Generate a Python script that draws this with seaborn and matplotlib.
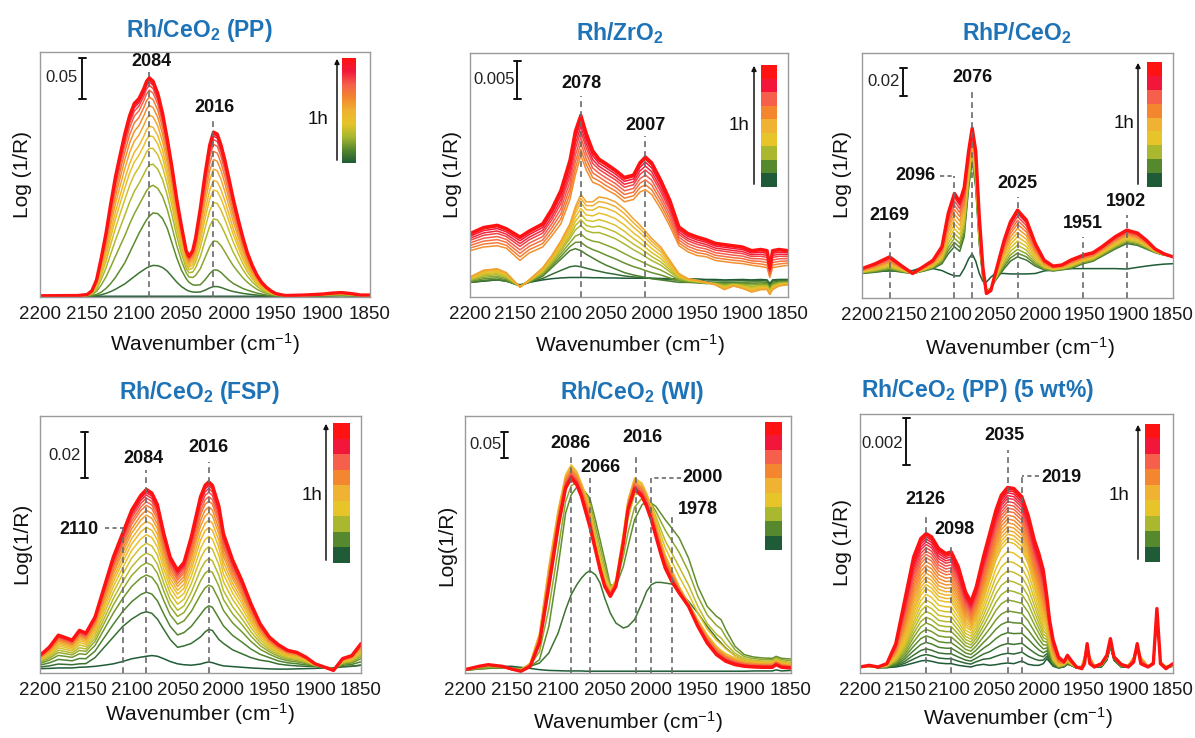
import numpy as np
import pandas as pd
import matplotlib
matplotlib.use("Agg")
import matplotlib.pyplot as plt
import matplotlib.transforms as mtransforms
from matplotlib.patches import FancyArrowPatch
from matplotlib.colors import LinearSegmentedColormap, ListedColormap
import seaborn as sns

# ---------------------------------------------------------------------------
# Spectra (log(1/R), absorbance units).  Each panel keeps a few measured
# reference spectra; the intermediate scans are placed between them at the
# fractional positions listed in *_steps (first scan -> last scan, 1 h).
# ---------------------------------------------------------------------------

# Rh/CeO2 (PP)
wn_pp = [2200, 2160, 2150, 2145, 2140, 2135, 2130, 2125, 2120, 2115,
         2110, 2105, 2100, 2095, 2090, 2087, 2084, 2080, 2075, 2070,
         2065, 2060, 2055, 2050, 2045, 2042, 2038, 2035, 2030, 2025,
         2020, 2016, 2012, 2008, 2004, 2000, 1995, 1990, 1985, 1980,
         1975, 1970, 1965, 1960, 1955, 1950, 1940, 1920, 1900, 1890,
         1880, 1870, 1860, 1850]
pp_base = [0.0009] * 47 + [0.0012, 0.0012, 0.0015, 0.0018, 0.0015, 0.0012, 0.0012]
pp_early = [0.0009, 0.0009, 0.0012, 0.0018, 0.003, 0.006, 0.0105, 0.0165, 0.024, 0.033,
            0.042, 0.054, 0.066, 0.078, 0.0885, 0.0945, 0.099, 0.103, 0.102, 0.096,
            0.084, 0.066, 0.048, 0.033, 0.0225, 0.018, 0.015, 0.0144, 0.015, 0.021,
            0.0285, 0.033, 0.033, 0.030, 0.0255, 0.021, 0.0165, 0.0135, 0.0105, 0.0084,
            0.0066, 0.0048, 0.0036, 0.0024, 0.0018, 0.0015, 0.0012, 0.0012, 0.0015, 0.0018,
            0.0018, 0.0015, 0.0012, 0.0012]
pp_final = [0.0015, 0.0018, 0.003, 0.0075, 0.021, 0.048, 0.078, 0.114, 0.147, 0.174,
            0.200, 0.222, 0.237, 0.243, 0.255, 0.264, 0.2685, 0.264, 0.249, 0.225,
            0.1935, 0.159, 0.120, 0.087, 0.057, 0.0495, 0.057, 0.072, 0.108, 0.150,
            0.186, 0.202, 0.1995, 0.186, 0.168, 0.147, 0.120, 0.096, 0.0735, 0.054,
            0.039, 0.027, 0.018, 0.012, 0.0075, 0.0042, 0.0018, 0.0024, 0.0036, 0.0048,
            0.0054, 0.0042, 0.0024, 0.0024]
pp_steps = [0, 0.37, 1, 1.21, 1.37, 1.49, 1.58, 1.65, 1.73, 1.80, 1.86, 1.91,
            1.945, 1.97, 1.985, 2.0]

# Rh/ZrO2  (values in 1e-3 absorbance)
wn_zr = [2200, 2185, 2170, 2160, 2145, 2135, 2120, 2110, 2100, 2090,
         2084, 2078, 2072, 2065, 2058, 2050, 2040, 2030, 2020, 2013,
         2007, 2000, 1990, 1980, 1970, 1960, 1950, 1940, 1930, 1920,
         1910, 1900, 1890, 1880, 1873, 1870, 1867, 1860, 1850]
zr_start = [1.92, 2.08, 2.24, 2.08, 1.60, 1.92, 2.24, 2.40, 2.50, 2.56,
            2.56, 2.56, 2.56, 2.53, 2.53, 2.50, 2.50, 2.46, 2.46, 2.46,
            2.46, 2.46, 2.43, 2.40, 2.40, 2.37, 2.37, 2.30, 2.30, 2.24,
            2.27, 2.30, 2.24, 2.30, 2.24, 1.76, 2.24, 2.30, 2.30]
zr_green = [1.92, 2.18, 2.30, 2.08, 1.44, 1.92, 2.72, 3.84, 4.96, 6.08,
            6.34, 6.08, 5.60, 5.12, 4.64, 4.16, 3.68, 3.20, 2.88, 2.72,
            2.56, 2.40, 2.24, 2.08, 1.92, 1.92, 1.86, 1.76, 1.86, 1.92,
            1.86, 1.92, 1.98, 1.98, 1.92, 1.28, 1.92, 2.08, 2.08]
zr_orange = [2.62, 3.52, 3.71, 3.20, 1.28, 2.24, 3.84, 5.44, 7.36, 9.60,
             11.84, 13.44, 12.48, 12.48, 13.12, 12.96, 12.48, 11.52, 10.24, 9.44,
             8.64, 7.68, 6.56, 4.80, 3.07, 2.40, 2.18, 1.92, 1.60, 0.96,
             1.44, 1.12, 0.64, 0.96, 0.96, 0.32, 0.96, 1.44, 1.60]
zr_red_low = [6.08, 6.56, 6.72, 6.40, 4.80, 5.76, 6.56, 8.00, 9.60, 12.80,
              16.00, 18.56, 16.64, 15.04, 14.72, 14.08, 13.44, 12.48, 12.80, 13.76,
              14.08, 13.44, 11.52, 9.28, 6.72, 5.92, 5.44, 5.28, 4.80, 4.64,
              4.48, 4.38, 4.16, 4.00, 3.84, 2.56, 3.84, 4.00, 4.16]
zr_final = [8.32, 9.12, 9.41, 8.96, 7.87, 8.64, 9.60, 11.52, 13.98, 17.92,
            21.76, 23.84, 21.44, 19.20, 18.08, 17.47, 16.64, 15.68, 16.00, 17.60,
            18.37, 17.60, 15.30, 12.67, 9.18, 8.32, 7.87, 7.52, 7.04, 6.88,
            6.72, 6.56, 6.08, 6.24, 6.08, 3.84, 6.08, 6.24, 6.08]
zr_steps = [0, 0.4, 1, 1.15, 1.3, 1.45, 1.55, 1.65, 1.75, 1.85, 1.93, 2,
            3, 3.15, 3.3, 3.45, 3.6, 3.72, 3.84, 3.93, 4]

# RhP/CeO2
wn_rhp = [2200, 2185, 2169, 2155, 2143, 2130, 2120, 2110, 2103, 2096,
          2090, 2085, 2080, 2076, 2072, 2068, 2064, 2060, 2055, 2050,
          2040, 2033, 2025, 2015, 2005, 1995, 1985, 1975, 1965, 1951,
          1940, 1930, 1915, 1902, 1890, 1880, 1870, 1860, 1850]
rhp_first = [0.0186, 0.0189, 0.0193, 0.0193, 0.0196, 0.0222, 0.0210, 0.0196, 0.0175, 0.0158,
             0.0158, 0.0210, 0.0280, 0.0315, 0.0263, 0.0175, 0.0119, 0.0114, 0.0149, 0.0175,
             0.0175, 0.0172, 0.0172, 0.0172, 0.0175, 0.0193, 0.0201, 0.0210, 0.0210, 0.0210,
             0.0210, 0.0210, 0.0210, 0.0207, 0.0219, 0.0228, 0.0236, 0.0242, 0.0245]
rhp_early = [0.0175, 0.0184, 0.0198, 0.0184, 0.0175, 0.0193, 0.0210, 0.0245, 0.0315, 0.0366,
             0.0333, 0.0438, 0.0788, 0.0980, 0.0788, 0.0385, 0.0140, 0.0053, 0.0070, 0.0123,
             0.0210, 0.0263, 0.0294, 0.0271, 0.0228, 0.0201, 0.0193, 0.0201, 0.0210, 0.0245,
             0.0263, 0.0298, 0.0350, 0.0389, 0.0376, 0.0350, 0.0324, 0.0306, 0.0298]
rhp_final = [0.0210, 0.0245, 0.0294, 0.0228, 0.0175, 0.0228, 0.0270, 0.0368, 0.0604, 0.0747,
             0.0688, 0.0788, 0.1050, 0.1213, 0.1050, 0.0578, 0.0222, 0.0032, 0.0053, 0.0175,
             0.0413, 0.0543, 0.0628, 0.0557, 0.0389, 0.0270, 0.0228, 0.0236, 0.0271, 0.0306,
             0.0324, 0.0366, 0.0438, 0.0485, 0.0464, 0.0413, 0.0350, 0.0315, 0.0294]
rhp_steps = [0, 1, 1.08, 1.16, 1.25, 1.34, 1.43, 1.52, 1.61, 1.7, 1.78, 1.86,
             1.93, 1.97, 2]

# Rh/CeO2 (FSP)
wn_fsp = [2200, 2190, 2180, 2170, 2165, 2157, 2150, 2140, 2130, 2120,
          2110, 2100, 2090, 2084, 2078, 2072, 2065, 2058, 2050, 2043,
          2035, 2025, 2020, 2016, 2012, 2005, 2000, 1990, 1980, 1970,
          1960, 1950, 1940, 1930, 1920, 1910, 1900, 1890, 1880, 1870,
          1860, 1850]
fsp_start = [0.0019, 0.0020, 0.0022, 0.0022, 0.0022, 0.0025, 0.0026, 0.0029, 0.0034, 0.0040,
             0.0050, 0.0062, 0.0069, 0.0073, 0.0076, 0.0073, 0.0062, 0.0050, 0.0040, 0.0036,
             0.0034, 0.0039, 0.0045, 0.0048, 0.0045, 0.0036, 0.0031, 0.0028, 0.0025, 0.0022,
             0.0020, 0.0018, 0.0017, 0.0017, 0.0018, 0.0019, 0.0020, 0.0022, 0.0022, 0.0027,
             0.0029, 0.0034]
fsp_early = [0.0026, 0.0031, 0.0039, 0.0037, 0.0036, 0.0040, 0.0041, 0.0067, 0.0112, 0.0157,
             0.0202, 0.0235, 0.0260, 0.0267, 0.0260, 0.0235, 0.0190, 0.0146, 0.0112, 0.0118,
             0.0129, 0.0157, 0.0179, 0.0190, 0.0185, 0.0146, 0.0129, 0.0101, 0.0084, 0.0067,
             0.0056, 0.0050, 0.0039, 0.0034, 0.0031, 0.0029, 0.0028, 0.0025, 0.0022, 0.0028,
             0.0030, 0.0034]
fsp_final = [0.0077, 0.0112, 0.0165, 0.0151, 0.0143, 0.0186, 0.0174, 0.0244, 0.0375, 0.0506,
             0.0608, 0.0710, 0.0775, 0.0800, 0.0784, 0.0734, 0.0608, 0.0504, 0.0448, 0.0482,
             0.0594, 0.0768, 0.0818, 0.0833, 0.0818, 0.0728, 0.0608, 0.0493, 0.0404, 0.0302,
             0.0215, 0.0157, 0.0123, 0.0099, 0.0090, 0.0069, 0.0040, 0.0026, 0.0011, 0.0063,
             0.0076, 0.0128]
fsp_steps = [0, 1, 1.16, 1.3, 1.4, 1.48, 1.56, 1.63, 1.69, 1.74, 1.79, 1.83,
             1.87, 1.9, 1.93, 1.955, 1.975, 1.99, 2]

# Rh/CeO2 (WI)
wn_wi = [2200, 2185, 2175, 2160, 2150, 2140, 2130, 2120, 2110, 2100,
         2092, 2086, 2080, 2075, 2070, 2066, 2060, 2055, 2050, 2044,
         2038, 2030, 2025, 2018, 2010, 2005, 2000, 1995, 1990, 1985,
         1978, 1970, 1960, 1950, 1940, 1930, 1925, 1920, 1910, 1900,
         1890, 1880, 1870, 1866, 1860, 1850]
wi_base = ([0.0065, 0.0095, 0.011, 0.013, 0.013, 0.011, 0.009, 0.0065, 0.005, 0.0045,
            0.004, 0.004, 0.004, 0.004] + [0.0035] * 26
           + [0.004, 0.004, 0.004, 0.006, 0.004, 0.005])
wi_broad = [0.0052, 0.0078, 0.0091, 0.0097, 0.0091, 0.0091, 0.0130, 0.0194, 0.0389, 0.0778,
            0.1231, 0.1523, 0.1717, 0.1847, 0.1944, 0.1989, 0.1912, 0.1750, 0.1458, 0.1166,
            0.0972, 0.0875, 0.0907, 0.1037, 0.1361, 0.1588, 0.1717, 0.1763, 0.1763, 0.1750,
            0.1730, 0.1588, 0.1393, 0.1166, 0.0907, 0.0680, 0.0583, 0.0486, 0.0337, 0.0246,
            0.0207, 0.0194, 0.0181, 0.0227, 0.0181, 0.0162]
wi_early = [0.0052, 0.0078, 0.0091, 0.0097, 0.0091, 0.0091, 0.0130, 0.0259, 0.0907, 0.2074,
            0.3110, 0.3467, 0.3616, 0.3590, 0.3499, 0.3402, 0.2981, 0.2592, 0.2203, 0.1717,
            0.1685, 0.2074, 0.2462, 0.2981, 0.3272, 0.3337, 0.3305, 0.3240, 0.3110, 0.2981,
            0.2819, 0.2624, 0.2236, 0.1685, 0.1296, 0.1102, 0.1037, 0.0842, 0.0518, 0.0356,
            0.0311, 0.0292, 0.0285, 0.0324, 0.0285, 0.0272]
wi_peak = [0.0065, 0.0130, 0.0162, 0.0130, 0.0065, 0.0052, 0.0194, 0.0778, 0.2074, 0.3175,
           0.3856, 0.4050, 0.3920, 0.3694, 0.3434, 0.3175, 0.2527, 0.2138, 0.1814, 0.1620,
           0.1814, 0.2722, 0.3370, 0.3791, 0.3694, 0.3499, 0.3240, 0.2916, 0.2592, 0.2300,
           0.2009, 0.1685, 0.1361, 0.1037, 0.0745, 0.0518, 0.0441, 0.0376, 0.0292, 0.0227,
           0.0207, 0.0194, 0.0194, 0.0246, 0.0194, 0.0162]
wi_final = [0.0065, 0.0130, 0.0162, 0.0130, 0.0078, 0.0032, 0.0130, 0.0583, 0.1685, 0.2851,
            0.3596, 0.3791, 0.3661, 0.3434, 0.3110, 0.2851, 0.2398, 0.2009, 0.1685, 0.1490,
            0.1685, 0.2527, 0.3175, 0.3577, 0.3434, 0.3240, 0.2981, 0.2657, 0.2333, 0.2041,
            0.1782, 0.1555, 0.1296, 0.0907, 0.0583, 0.0356, 0.0292, 0.0227, 0.0162, 0.0130,
            0.0117, 0.0110, 0.0110, 0.0162, 0.0110, 0.0097]
wi_steps = [0, 1, 2, 2.3, 2.6, 2.8, 3, 3.15, 3.3, 3.45, 3.6, 3.72, 3.84, 3.93, 4]

# Rh/CeO2 (PP) (5 wt%)  (values in 1e-3 absorbance)
wn_pp5 = [2200, 2190, 2180, 2170, 2160, 2150, 2140, 2132, 2126, 2120,
          2112, 2104, 2098, 2090, 2082, 2076, 2070, 2062, 2055, 2048,
          2042, 2035, 2028, 2019, 2012, 2005, 2000, 1995, 1991, 1988,
          1984, 1978, 1972, 1968, 1964, 1958, 1952, 1949, 1946, 1943,
          1938, 1930, 1924, 1920, 1916, 1908, 1900, 1894, 1890, 1886,
          1878, 1872, 1868, 1864, 1858, 1850]
pp5_start = [0.255, 0.284, 0.227, 0.227, 0.255, 0.326, 0.425, 0.510, 0.539, 0.496,
             0.425, 0.397, 0.397, 0.326, 0.284, 0.255, 0.326, 0.369, 0.326, 0.354,
             0.397, 0.425, 0.397, 0.510, 0.369, 0.326, 0.326, 0.397, 0.610, 0.468,
             0.284, 0.213, 0.255, 0.369, 0.326, 0.213, 0.255, 0.539, 0.964, 0.539,
             0.255, 0.255, 0.539, 1.106, 0.539, 0.255, 0.255, 0.539, 1.035, 0.539,
             0.255, 0.397, 2.381, 0.397, 0.255, 0.284]
pp5_mid = [0.255, 0.284, 0.255, 0.326, 0.680, 1.389, 2.523, 3.303, 3.586, 3.445,
           3.090, 3.019, 3.019, 2.523, 1.956, 1.814, 2.240, 3.090, 3.941, 4.791,
           5.287, 5.571, 5.500, 5.216, 4.649, 3.657, 2.948, 2.240, 1.956, 1.389,
           0.680, 0.326, 0.397, 0.539, 0.397, 0.255, 0.284, 0.680, 1.177, 0.680,
           0.326, 0.397, 0.751, 1.389, 0.751, 0.369, 0.326, 0.680, 1.177, 0.680,
           0.284, 0.468, 2.594, 0.468, 0.284, 0.326]
pp5_final = [0.255, 0.326, 0.255, 0.397, 1.247, 3.090, 4.933, 5.713, 5.925, 5.783,
             5.287, 5.075, 5.145, 4.508, 3.445, 3.019, 3.657, 4.933, 5.925, 6.917,
             7.555, 7.881, 7.839, 7.484, 6.705, 5.642, 5.075, 4.366, 3.232, 2.240,
             1.389, 0.680, 0.468, 0.751, 0.539, 0.255, 0.184, 0.397, 1.247, 0.397,
             0.255, 0.397, 0.751, 1.460, 0.680, 0.369, 0.255, 0.468, 1.247, 0.397,
             0.255, 0.397, 2.736, 0.397, 0.184, 0.397]
pp5_steps = [0, 0.08, 0.16, 0.25, 0.34, 0.43, 0.52, 0.6, 0.68, 0.76, 0.84, 0.92,
             1.0, 1.07, 1.14, 1.21, 1.28, 1.35, 1.42, 1.49, 1.56, 1.62, 1.68, 1.74,
             1.8, 1.85, 1.9, 1.94, 1.97, 2.0]

# ---------------------------------------------------------------------------
sns.set_theme(style="white")
plt.rcParams["font.family"] = ["Liberation Sans", "DejaVu Sans"]
plt.rcParams["mathtext.fontset"] = "custom"
plt.rcParams["mathtext.rm"] = "Liberation Sans"
plt.rcParams["mathtext.it"] = "Liberation Sans:italic"
plt.rcParams["mathtext.bf"] = "Liberation Sans:bold"

W, H = 1195, 738
fig = plt.figure(figsize=(W / 100, H / 100), dpi=100)

BAND_COLORS = ["#1f5b37", "#56882e", "#a9b82f", "#e6c42a", "#efb232",
               "#f3862e", "#f55f4b", "#f2173a", "#ff1212"]
time_cmap = LinearSegmentedColormap.from_list("time", BAND_COLORS)
TITLE_BLUE = "#1e73b7"
DASH_GREY = "#6a6a6a"


def fxy(px, py):
    return px / W, 1 - py / H


def blend(keys, p):
    i = min(int(np.floor(p)), len(keys) - 2)
    t = p - i
    return (1 - t) * keys[i] + t * keys[i + 1]


panels = [
    dict(box=(40, 52, 370, 297), span=0.30, unit=1.0, wn=wn_pp,
         keys=[pp_base, pp_early, pp_final], steps=pp_steps,
         title=r"Rh/CeO$_{\mathbf{2}}$ (PP)", title_xy=(199, 30),
         ylabel="Log (1/R)", ylabel_xy=(22, 175), xlabel_xy=(205, 344),
         scale=(0.05, "0.05", 82, 99, (61, 78)),
         cbar=(342, 58, 356, 163), gradient=True, arrow_x=337, hour_xy=(318, 119),
         peaks=[("2084", 2084, 151, 62, 72, None),
                ("2016", 2016, 214, 107, 121, None)]),
    dict(box=(470, 53, 788, 297), span=0.032, unit=1e-3, wn=wn_zr,
         keys=[zr_start, zr_green, zr_orange, zr_red_low, zr_final], steps=zr_steps,
         title=r"Rh/ZrO$_{\mathbf{2}}$", title_xy=(620, 33),
         ylabel="Log (1/R)", ylabel_xy=(452, 175), xlabel_xy=(630, 345),
         scale=(0.005, "0.005", 517, 99, (494, 80)),
         cbar=(761, 65, 777, 187), gradient=False, arrow_x=754, hour_xy=(739, 126),
         peaks=[("2078", 2078, 581, 83, 96, None),
                ("2007", 2007, 646, 126, 136, None)]),
    dict(box=(862, 53, 1173, 298), span=0.175, unit=1.0, wn=wn_rhp,
         keys=[rhp_first, rhp_early, rhp_final], steps=rhp_steps,
         title=r"RhP/CeO$_{\mathbf{2}}$", title_xy=(1017, 33),
         ylabel="Log (1/R)", ylabel_xy=(843, 175), xlabel_xy=(1020, 348),
         scale=(0.02, "0.02", 903, 96, (884, 81)),
         cbar=(1147, 62, 1162, 187), gradient=False, arrow_x=1138, hour_xy=(1124, 124),
         peaks=[("2076", 2076, 972, 77, 90, None),
                ("2096", 2096, 915, 175, 176, 940),
                ("2169", 2169, 889, 215, 229, None),
                ("2025", 2025, 1017, 184, 197, None),
                ("1951", 1951, 1083, 224, 237, None),
                ("1902", 1902, 1126, 202, 215, None)]),
    dict(box=(40, 416, 361, 673), span=0.112, unit=1.0, wn=wn_fsp,
         keys=[fsp_start, fsp_early, fsp_final], steps=fsp_steps,
         title=r"Rh/CeO$_{\mathbf{2}}$ (FSP)", title_xy=(199, 393),
         ylabel="Log(1/R)", ylabel_xy=(22, 543), xlabel_xy=(200, 714),
         scale=(0.02, "0.02", 85, 478, (65, 455)),
         cbar=(333, 423, 350, 563), gradient=False, arrow_x=326, hour_xy=(312, 495),
         peaks=[("2084", 2084, 143, 458, 470, None),
                ("2016", 2016, 208, 448, 462, None),
                ("2110", 2110, 79, 530, 528, 105)]),
    dict(box=(465, 416, 791, 673), span=0.50, unit=1.0, wn=wn_wi,
         keys=[wi_base, wi_broad, wi_early, wi_peak, wi_final], steps=wi_steps,
         title=r"Rh/CeO$_{\mathbf{2}}$ (WI)", title_xy=(632, 393),
         ylabel="Log(1/R)", ylabel_xy=(447, 545), xlabel_xy=(628, 722),
         scale=(0.05, "0.05", 504, 458, (486, 444)),
         cbar=(765, 422, 782, 550), gradient=False, arrow_x=None, hour_xy=None,
         peaks=[("2086", 2086, 570, 443, 453, None),
                ("2066", 2066, 600, 468, 478, None),
                ("2016", 2016, 642, 438, 453, None),
                ("2000", 2000, 703, 477, 478, 681),
                ("1978", 1978, 698, 509, 514, None)]),
    dict(box=(860, 414, 1173, 673), span=0.011, unit=1e-3, wn=wn_pp5,
         keys=[pp5_start, pp5_mid, pp5_final], steps=pp5_steps,
         title=r"Rh/CeO$_{\mathbf{2}}$ (PP) (5 wt%)", title_xy=(978, 390),
         ylabel="Log (1/R)", ylabel_xy=(843, 542), xlabel_xy=(1018, 718),
         scale=(0.002, "0.002", 906, 465, (882, 443)),
         cbar=(1145, 424, 1160, 562), gradient=False, arrow_x=1138, hour_xy=(1119, 495),
         peaks=[("2035", 2035, 1004, 435, 450, None),
                ("2019", 2019, 1061, 478, 476, 1039),
                ("2126", 2126, 925, 500, 515, None),
                ("2098", 2098, 954, 530, 543, None)]),
]

for P in panels:
    l, t, r, b = P["box"]
    ax = fig.add_axes([l / W, 1 - b / H, (r - l) / W, (b - t) / H])

    keys = [np.asarray(k, dtype=float) * P["unit"] for k in P["keys"]]
    wn = np.asarray(P["wn"], dtype=float)
    steps = P["steps"]
    n = len(steps)
    names = [f"scan{k:02d}" for k in range(n)]
    frames = [pd.DataFrame({"wn": wn, "a": blend(keys, p), "scan": nm})
              for p, nm in zip(steps, names)]
    df = pd.concat(frames, ignore_index=True)
    colors = [time_cmap(k / (n - 1)) for k in range(n)]

    sns.lineplot(data=df[df["scan"] != names[-1]], x="wn", y="a", hue="scan",
                 hue_order=names[:-1], palette=colors[:-1], estimator=None,
                 sort=False, legend=False, lw=1.1, ax=ax)
    sns.lineplot(data=df[df["scan"] == names[-1]], x="wn", y="a",
                 color=colors[-1], estimator=None, sort=False, legend=False,
                 lw=2.4, ax=ax)

    ax.set_xlim(2200, 1850)
    ax.set_ylim(0, P["span"])
    ax.set_xticks(list(range(2200, 1849, -50)))
    ax.set_yticks([])
    ax.set_xlabel("")
    ax.set_ylabel("")
    ax.tick_params(axis="x", length=0, pad=6.5, labelsize=13.5, labelcolor="#1a1a1a")
    for sp in ax.spines.values():
        sp.set_color("#9a9a9a")
        sp.set_linewidth(1.0)

    def wn_of(px):
        return 2200 - (px - l) / (r - l) * 350.0

    def yfrac(py):
        return (b - py) / (b - t)

    trans_xa = mtransforms.blended_transform_factory(ax.transData, ax.transAxes)
    for text, w, lx, ly, ytop, hook in P["peaks"]:
        yt = yfrac(ytop)
        ax.plot([w, w], [0, yt], transform=trans_xa, color=DASH_GREY, lw=1.2,
                dashes=(3.5, 2.5), zorder=6, clip_on=False)
        if hook is not None:
            ax.plot([wn_of(hook), w], [yt, yt], transform=trans_xa, color=DASH_GREY,
                    lw=1.2, dashes=(2.5, 2.0), zorder=6, clip_on=False)
        fig.text(*fxy(lx, ly), text, ha="center", va="center", fontsize=13,
                 fontweight="bold", color="#111111")

    # scale bar
    value, label, bx, bbot, (slx, sly) = P["scale"]
    trans_ay = mtransforms.blended_transform_factory(ax.transAxes, ax.transData)
    xa = (bx - l) / (r - l)
    y0 = yfrac(bbot) * P["span"]
    cap = 3.5 / (r - l)
    ax.plot([xa, xa], [y0, y0 + value], transform=trans_ay, color="#111111", lw=1.4,
            clip_on=False, zorder=7)
    for yy in (y0, y0 + value):
        ax.plot([xa - cap, xa + cap], [yy, yy], transform=trans_ay, color="#111111",
                lw=1.4, clip_on=False, zorder=7)
    fig.text(*fxy(slx, sly), label, ha="center", va="center", fontsize=12,
             color="#222222")

    # time colour bar
    cl, ct, cr, cb = P["cbar"]
    cax = fig.add_axes([cl / W, 1 - cb / H, (cr - cl) / W, (cb - ct) / H])
    if P["gradient"]:
        cax.imshow(np.linspace(0, 1, 256)[:, None], aspect="auto", origin="lower",
                   cmap=time_cmap)
    else:
        cax.imshow(np.arange(len(BAND_COLORS))[:, None], aspect="auto", origin="lower",
                   cmap=ListedColormap(BAND_COLORS))
    cax.set_axis_off()
    if P["arrow_x"] is not None:
        fig.add_artist(FancyArrowPatch(fxy(P["arrow_x"], cb), fxy(P["arrow_x"], ct - 2),
                                       transform=fig.transFigure, arrowstyle="-|>",
                                       mutation_scale=7, lw=1.1, color="#111111"))
    if P["hour_xy"] is not None:
        fig.text(*fxy(*P["hour_xy"]), "1h", ha="center", va="center", fontsize=13.5,
                 color="#111111")

    fig.text(*fxy(*P["title_xy"]), P["title"], ha="center", va="center",
             fontsize=16.5, fontweight="bold", color=TITLE_BLUE)
    fig.text(*fxy(*P["ylabel_xy"]), P["ylabel"], ha="center", va="center",
             rotation=90, fontsize=15, color="#111111")
    fig.text(*fxy(*P["xlabel_xy"]), r"Wavenumber (cm$^{-1}$)", ha="center",
             va="center", fontsize=15, color="#111111")

fig.savefig("out.png", dpi=100, facecolor="white")
